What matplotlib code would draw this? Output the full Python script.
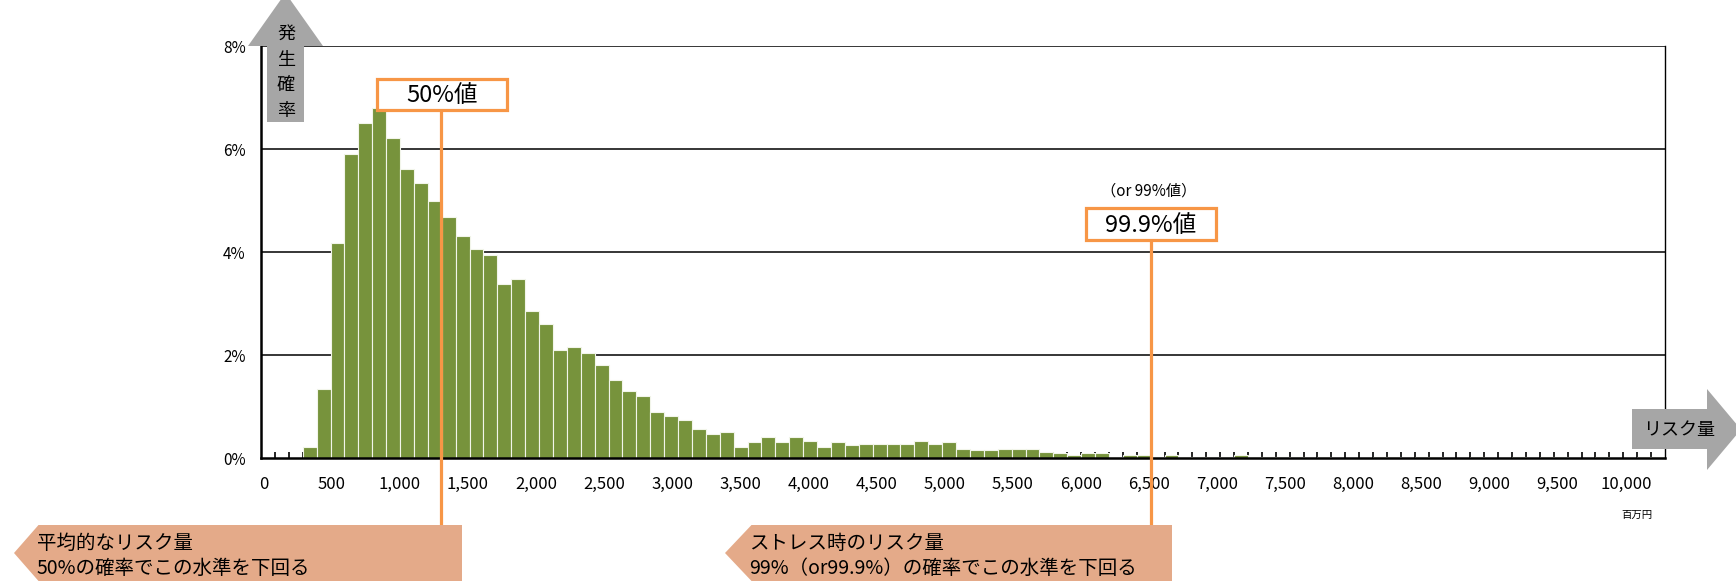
import matplotlib
matplotlib.use("Agg")
import matplotlib.pyplot as plt
import numpy as np
from matplotlib.patches import Polygon, Rectangle
from matplotlib.transforms import blended_transform_factory

plt.rcParams['font.family'] = ['Noto Sans CJK JP', 'DejaVu Sans']

# 発生確率(%)  100百万円刻みのビン 0〜10,000
prob = [0, 0, 0, 0.21, 1.34, 4.19, 5.90, 6.52, 6.80, 6.21,
        5.62, 5.34, 5.00, 4.69, 4.32, 4.07, 3.95, 3.39, 3.48, 2.86,
        2.61, 2.11, 2.17, 2.05, 1.81, 1.52, 1.30, 1.21, 0.90, 0.83,
        0.74, 0.56, 0.47, 0.52, 0.22, 0.31, 0.41, 0.31, 0.41, 0.34,
        0.22, 0.31, 0.25, 0.28, 0.28, 0.28, 0.28, 0.34, 0.28, 0.31,
        0.19, 0.16, 0.16, 0.19, 0.19, 0.19, 0.12, 0.10, 0.06, 0.10,
        0.10, 0.03, 0.06, 0.06, 0.03, 0.06, 0.03, 0.03, 0.02, 0.03,
        0.06, 0.02, 0.02, 0.02, 0.02, 0, 0.02, 0, 0, 0,
        0.02, 0.02, 0, 0.02, 0.02, 0, 0, 0.02, 0, 0,
        0.02, 0, 0.02, 0.02, 0, 0, 0.02, 0, 0, 0.02, 0.02]
bin_width = 100
x_label_values = list(range(0, 10001, 500))
y_ticks = [0, 2, 4, 6, 8]
p50 = 1293    # 50%値
p999 = 6403   # 99.9%値

GREEN = "#77933C"
ORANGE = "#F79646"
GRAY = "#A6A6A6"
SALMON = "#E4AA89"

W, H = 1736, 581
fig = plt.figure(figsize=(W / 100, H / 100), dpi=100)


def fx(px):
    return px / W


def fy(py):
    return 1 - py / H


ax = fig.add_axes([fx(261), fy(458.3), fx(1665) - fx(261), fy(46.3) - fy(458.3)])

bins = np.arange(len(prob)) * bin_width
ax.bar(bins, prob, width=bin_width, align='edge', color=GREEN,
       edgecolor="#F2F5EA", linewidth=0.8, zorder=2)

ax.set_xlim(0, len(prob) * bin_width)
ax.set_ylim(0, 8)

# grid
for y in y_ticks[1:]:
    ax.axhline(y, color='black', lw=1.1, zorder=1)

ax.spines['top'].set_visible(False)
ax.spines['left'].set_linewidth(1.8)
ax.spines['bottom'].set_linewidth(1.8)
ax.spines['right'].set_linewidth(1.0)

ax.set_yticks(y_ticks)
ax.set_yticklabels([f"{v}%" for v in y_ticks])
ax.tick_params(axis='y', length=0, pad=11, labelsize=11)

# x labels sit on their own row, slightly compressed vs. the bins
label_pos = 18 + np.array(x_label_values) * 0.980
ax.set_xticks(label_pos)
ax.set_xticklabels([f"{v:,}" for v in x_label_values])
ax.tick_params(axis='x', which='major', length=0, pad=13, labelsize=12)
ax.set_xticks(np.arange(bin_width, len(prob) * bin_width, bin_width), minor=True)
ax.tick_params(axis='x', which='minor', direction='in', length=4.5, width=1.2, color='black')

fig.text(fx(1637), fy(515), "百万円", fontsize=7.5, ha='center', va='center')

# vertical arrow (発生確率)
up = Polygon([(fx(267), fy(122)), (fx(267), fy(46)), (fx(248), fy(46)),
              (fx(285.5), fy(-7)), (fx(323), fy(46)), (fx(304), fy(46)),
              (fx(304), fy(122))], closed=True, transform=fig.transFigure,
             facecolor=GRAY, edgecolor='none', zorder=5)
fig.add_artist(up)
for ch, yy in zip("発生確率", [33.5, 60.5, 84.5, 111]):
    fig.text(fx(286), fy(yy), ch, fontsize=13, ha='center', va='center', zorder=6)

# horizontal arrow (リスク量)
right = Polygon([(fx(1632), fy(409)), (fx(1707), fy(409)), (fx(1707), fy(389)),
                 (fx(1741), fy(429.5)), (fx(1707), fy(470)), (fx(1707), fy(449)),
                 (fx(1632), fy(449))], closed=True, transform=fig.transFigure,
                facecolor=GRAY, edgecolor='none', zorder=5)
fig.add_artist(right)
fig.text(fx(1679), fy(430), "リスク量", fontsize=13, ha='center', va='center', zorder=6)

# percentile lines
tr = blended_transform_factory(ax.transData, fig.transFigure)
ax.plot([p50, p50], [fy(110), fy(525)], color=ORANGE, lw=2.3, transform=tr,
        clip_on=False, zorder=4)
ax.plot([p999, p999], [fy(240), fy(525)], color=ORANGE, lw=2.3, transform=tr,
        clip_on=False, zorder=4)

# label boxes
for (x0, y0, x1, y1), txt in [((377, 79.5, 507, 110), "50%値"),
                              ((1086, 208.5, 1216, 240), "99.9%値")]:
    fig.add_artist(Rectangle((fx(x0), fy(y1)), fx(x1) - fx(x0), fy(y0) - fy(y1),
                             transform=fig.transFigure, facecolor='white',
                             edgecolor=ORANGE, lw=2.3, zorder=6))
    fig.text(fx((x0 + x1) / 2), fy((y0 + y1) / 2 + 1), txt, fontsize=17,
             ha='center', va='center', zorder=7)
fig.text(fx(1149), fy(191), "（or 99%値）", fontsize=11, ha='center', va='center')

# bottom callouts
for tip, x_rect, x_right, lines in [
        (14, 38.5, 462, ["平均的なリスク量", "50%の確率でこの水準を下回る"]),
        (725, 751.5, 1172, ["ストレス時のリスク量", "99%（or99.9%）の確率でこの水準を下回る"])]:
    fig.add_artist(Polygon([(fx(tip), fy(553)), (fx(x_rect), fy(525)), (fx(x_right), fy(525)),
                            (fx(x_right), fy(581)), (fx(x_rect), fy(581))],
                           closed=True, transform=fig.transFigure,
                           facecolor=SALMON, edgecolor='none', zorder=5))
    fig.text(fx(x_rect - 2), fy(543.5), lines[0], fontsize=14, ha='left', va='center', zorder=6)
    fig.text(fx(x_rect - 2), fy(568.5), lines[1], fontsize=14, ha='left', va='center', zorder=6)

fig.savefig("out.png", dpi=100)
plt.close(fig)
